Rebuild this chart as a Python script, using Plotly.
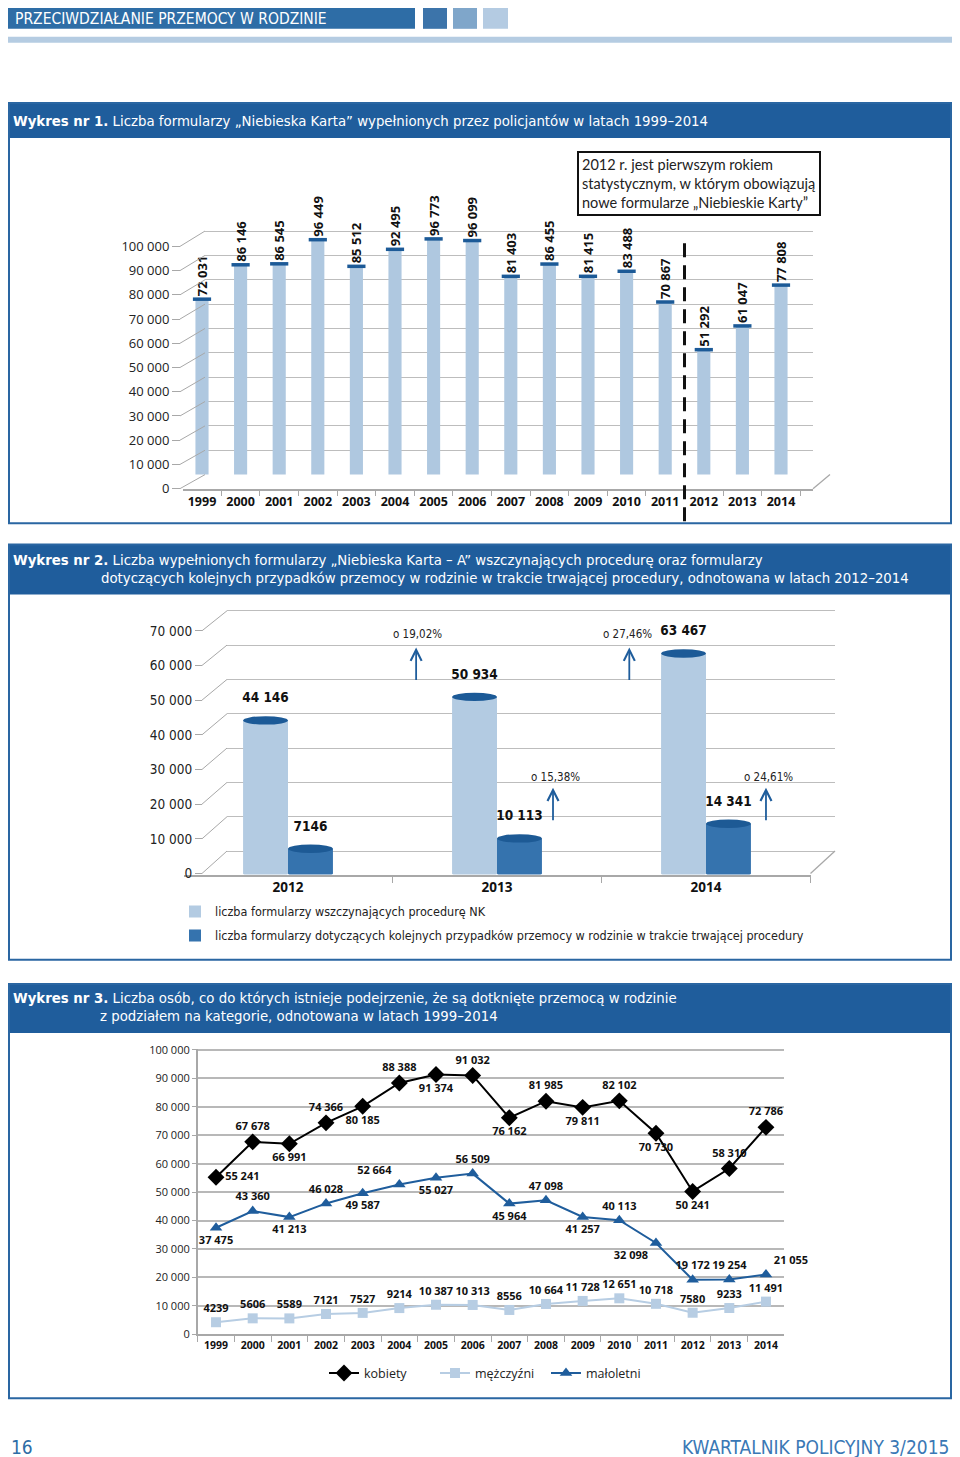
import plotly.graph_objects as go

# ---------------- data ----------------
years1 = ["1999", "2000", "2001", "2002", "2003", "2004", "2005", "2006",
          "2007", "2008", "2009", "2010", "2011", "2012", "2013", "2014"]
cards1 = [72031, 86146, 86545, 96449, 85512, 92495, 96773, 96099,
          81403, 86455, 81415, 83488, 70867, 51292, 61047, 77808]

years2 = ["2012", "2013", "2014"]
initiating2 = [44146, 50934, 63467]
subsequent2 = [7146, 10113, 14341]
pct_top2 = ["o 19,02%", "o 27,46%"]
pct_low2 = ["o 15,38%", "o 24,61%"]
legend2_names = ["liczba formularzy wszczynających procedurę NK",
                 "liczba formularzy dotyczących kolejnych przypadków przemocy w rodzinie w trakcie trwającej procedury"]

years3 = years1
women3 = [55241, 67678, 66991, 74366, 80185, 88388, 91374, 91032,
          76162, 81985, 79811, 82102, 70730, 50241, 58310, 72786]
men3 = [4239, 5606, 5589, 7121, 7527, 9214, 10387, 10313,
        8556, 10664, 11728, 12651, 10718, 7580, 9233, 11491]
minors3 = [37475, 43360, 41213, 46028, 49587, 52664, 55027, 56509,
           45964, 47098, 41257, 40113, 32098, 19172, 19254, 21055]
series3_names = ["kobiety", "mężczyźni", "małoletni"]

# label placement (style)
women_pos = ["middle right", "top center", "bottom center", "top center", "bottom center",
             "top center", "bottom center", "top center", "bottom center", "top center",
             "bottom center", "top center", "bottom center", "bottom center", "top center", "top center"]
minors_pos = ["bottom center", "top center", "bottom center", "top center", "bottom center",
              "top left", "bottom center", "top center", "bottom center", "top center",
              "bottom center", "top center", "bottom left", "top center", "top center", "top right"]
men_pos = ["top center"] * 16

# ---------------- helpers (page pixel -> paper fraction) ----------------
OX, FW = 8.0, 944
OYR, SY, FH = 14.2, 0.9886, 1458
def px(x): return (x - OX) / FW
def py(y): return 1 - ((y - OYR) / SY) / FH
def ydom(p0, s, r):
    return [py(p0 - r[0] * s), py(p0 - r[1] * s)]
def fmt(v):
    return f"{v:,}".replace(",", " ") if v >= 10000 else str(v)

NARROW = "DejaVu Sans Condensed, Liberation Sans Narrow, sans-serif"
SANS = "Open Sans, Noto Sans, sans-serif"
DARK = "#1f5d9c"
LIGHTBAR = "#afc8e0"
CAP = "#1c5a97"
GRID = "#bdbdbd"
AXC = "#a8a8a8"

fig = go.Figure()
shapes, annos = [], []

# ---------------- page decoration ----------------
shapes += [
    dict(type="rect", xref="paper", yref="paper", x0=px(0), x1=px(415), y0=py(28), y1=py(-10), fillcolor="#2e6da6", line_width=0, layer="below"),
    dict(type="rect", xref="paper", yref="paper", x0=px(423), x1=px(447), y0=py(28), y1=py(-10), fillcolor="#3c74aa", line_width=0, layer="below"),
    dict(type="rect", xref="paper", yref="paper", x0=px(453), x1=px(477), y0=py(28), y1=py(-10), fillcolor="#7fa6ca", line_width=0, layer="below"),
    dict(type="rect", xref="paper", yref="paper", x0=px(483), x1=px(508), y0=py(28), y1=py(-10), fillcolor="#b4cbe2", line_width=0, layer="below"),
    dict(type="rect", xref="paper", yref="paper", x0=px(0), x1=px(960), y0=py(42), y1=py(36), fillcolor="#b5cce2", line_width=0, layer="below"),
]
annos.append(dict(text="PRZECIWDZIAŁANIE PRZEMOCY W RODZINIE", xref="paper", yref="paper", x=px(13), y=py(18.5),
                  xanchor="left", yanchor="middle", showarrow=False, font=dict(family=NARROW, size=15.5, color="white")))

# section boxes and title bars
for top, bar_bottom, bottom in [(102, 137, 522), (543, 593, 958), (982, 1031, 1396)]:
    shapes.append(dict(type="rect", xref="paper", yref="paper", x0=px(0), x1=px(960), y0=py(bar_bottom), y1=py(top),
                       fillcolor=DARK, line_width=0, layer="below"))
    shapes.append(dict(type="rect", xref="paper", yref="paper", x0=px(9), x1=px(951), y0=py(bottom), y1=py(top),
                       fillcolor="rgba(0,0,0,0)", line=dict(color="#2a66a2", width=2), layer="above"))

def title(text, x, y):
    annos.append(dict(text=text, xref="paper", yref="paper", x=px(x), y=py(y), xanchor="left", yanchor="middle",
                      showarrow=False, font=dict(family=NARROW, size=14.8, color="white")))
title("<b>Wykres nr 1.</b> Liczba formularzy „Niebieska Karta” wypełnionych przez policjantów w latach 1999–2014", 11, 120)
title("<b>Wykres nr 2.</b> Liczba wypełnionych formularzy „Niebieska Karta – A” wszczynających procedurę oraz formularzy", 11, 558)
title("dotyczących kolejnych przypadków przemocy w rodzinie w trakcie trwającej procedury, odnotowana w latach 2012–2014", 99, 576)
title("<b>Wykres nr 3.</b> Liczba osób, co do których istnieje podejrzenie, że są dotknięte przemocą w rodzinie", 11, 996)
title("z podziałem na kategorie, odnotowana w latach 1999–2014", 98, 1014)

annos.append(dict(text="16", xref="paper", yref="paper", x=px(9), y=py(1445), xanchor="left", yanchor="middle",
                  showarrow=False, font=dict(family=NARROW, size=19, color="#2e6da6")))
annos.append(dict(text="KWARTALNIK POLICYJNY 3/2015", xref="paper", yref="paper", x=px(951), y=py(1445), xanchor="right",
                  yanchor="middle", showarrow=False, font=dict(family=NARROW, size=19, color="#3a78b5")))

# ---------------- chart 1 ----------------
P1B, S1B = 473.3, (473.3 - 230.0) / 100000      # back wall scale
P1F, S1F = 487.3, (487.3 - 245.3) / 100000      # front tick scale
R1 = [-300, 101500]
X1_FIRST, X1_STEP = 202.0, 38.6

fig.add_trace(go.Scatter(x=[None], y=[None], xaxis="x", yaxis="y", showlegend=False, hoverinfo="skip"))
fig.add_trace(go.Bar(x=years1, y=cards1, xaxis="x2", yaxis="y2", width=0.34, marker=dict(color=LIGHTBAR, line_width=0),
                     text=[fmt(v) for v in cards1], textposition="outside", textangle=-90, constraintext="none",
                     cliponaxis=False, textfont=dict(family=SANS, size=13, color="#111", weight="bold"),
                     showlegend=False, hoverinfo="skip"))
fig.add_trace(go.Scatter(x=years1, y=cards1, xaxis="x2", yaxis="y2", mode="markers", cliponaxis=False,
                         marker=dict(symbol="line-ew", size=13, line=dict(width=3.5, color=CAP)),
                         showlegend=False, hoverinfo="skip"))
fig.add_trace(go.Scatter(x=[None], y=[None], xaxis="x2", yaxis="y3", showlegend=False, hoverinfo="skip"))

for v in range(0, 100001, 10000):
    yf, yb = P1F - v * S1F, P1B - v * S1B
    shapes.append(dict(type="path", xref="paper", yref="paper",
                       path=f"M {px(180)} {py(yf)} L {px(205)} {py(yb)}", line=dict(color=AXC, width=1)))
shapes.append(dict(type="line", xref="paper", yref="paper", x0=px(813), y0=py(P1F), x1=px(830), y1=py(P1B),
                   line=dict(color=AXC, width=1.3)))
shapes.append(dict(type="line", xref="x2", yref="paper", x0=12.5, x1=12.5, y0=py(520), y1=py(236),
                   line=dict(color="#111", width=3, dash="14px,8px")))
annos.append(dict(text="2012 r. jest pierwszym rokiem<br>statystycznym, w którym obowiązują<br>nowe formularze „Niebieskie Karty”",
                  xref="paper", yref="paper", x=px(577), y=py(150), xanchor="left", yanchor="top", align="left",
                  showarrow=False, bordercolor="#111", borderwidth=2, borderpad=3, bgcolor="white",
                  font=dict(family="Lato, Open Sans, sans-serif", size=14.5, color="#222")))

# ---------------- chart 2 ----------------
P2B, S2B = 849.3, (849.3 - 609.3) / 70000
P2F, S2F = 871.7, (871.7 - 629.3) / 70000
R2 = [-300, 70600]
BW = 0.215
MID = "#3573ae"

fig.add_trace(go.Scatter(x=[None], y=[None], xaxis="x3", yaxis="y4", showlegend=False, hoverinfo="skip"))
xs2 = list(range(len(years2)))
fig.add_trace(go.Bar(x=xs2, y=initiating2, xaxis="x4", yaxis="y5", width=BW, offset=-BW,
                     marker=dict(color="#b3cbe2", line_width=0), name=legend2_names[0], legend="legend2",
                     hoverinfo="skip"))
fig.add_trace(go.Bar(x=xs2, y=subsequent2, xaxis="x4", yaxis="y5", width=BW, offset=0,
                     marker=dict(color=MID, line_width=0), name=legend2_names[1], legend="legend3",
                     hoverinfo="skip"))
fig.add_trace(go.Scatter(x=[i - BW / 2 for i in xs2], y=initiating2, xaxis="x4", yaxis="y5", mode="markers+text",
                         marker=dict(size=22, opacity=0), text=[fmt(v) for v in initiating2], textposition="top center",
                         textfont=dict(family=NARROW, size=13.5, color="#111", weight="bold"), cliponaxis=False,
                         showlegend=False, hoverinfo="skip"))
fig.add_trace(go.Scatter(x=[i + BW / 2 for i in xs2], y=subsequent2, xaxis="x4", yaxis="y5", mode="markers+text",
                         marker=dict(size=22, opacity=0), text=[fmt(v) for v in subsequent2], textposition="top center",
                         textfont=dict(family=NARROW, size=13.5, color="#111", weight="bold"), cliponaxis=False,
                         showlegend=False, hoverinfo="skip"))

hh = 4.2 / S2F
for i in xs2:
    for x0, v, capc, bodyc in [(i - BW, initiating2[i], CAP, "#b3cbe2"), (i, subsequent2[i], "#1d5a95", MID)]:
        shapes.append(dict(type="circle", xref="x4", yref="y5", x0=x0, x1=x0 + BW, y0=v - hh, y1=v + hh,
                           fillcolor=capc, line_width=0, layer="above"))
        shapes.append(dict(type="circle", xref="x4", yref="y5", x0=x0, x1=x0 + BW, y0=-hh, y1=hh,
                           fillcolor=bodyc, line_width=0, layer="below"))

for v in range(0, 70001, 10000):
    yf, yb = P2F - v * S2F, P2B - v * S2B
    shapes.append(dict(type="path", xref="paper", yref="paper",
                       path=f"M {px(202)} {py(yf)} L {px(227)} {py(yb)}", line=dict(color=AXC, width=1)))
shapes.append(dict(type="line", xref="paper", yref="paper", x0=px(810.5), y0=py(P2F), x1=px(835), y1=py(P2B),
                   line=dict(color=AXC, width=1.3)))

ARROWC = "#1f5d9c"
for xa, xt, ytip, ytxt, label in [(0.613, 0.619, 65180, 69020, pct_top2[0]), (1.633, 1.625, 65180, 69020, pct_top2[1]),
                                  (1.268, 1.278, 24750, 27720, pct_low2[0]), (2.287, 2.297, 24750, 27720, pct_low2[1])]:
    annos.append(dict(text="", xref="x4", yref="y5", x=xa, y=ytip, ax=0, ay=34, showarrow=True, arrowhead=5,
                      arrowsize=1.2, arrowwidth=1.8, arrowcolor=ARROWC))
    annos.append(dict(text=label, xref="x4", yref="y5", x=xt, y=ytxt, showarrow=False, xanchor="center", yanchor="middle",
                      font=dict(family=NARROW, size=11.5, color="#222")))

# ---------------- chart 3 ----------------
P3, S3 = 1332.0, 284.0 / 100000
R3 = [0, 100500]
LAB = dict(family=SANS, size=11, color="#111", weight="bold")
fig.add_trace(go.Scatter(x=years3, y=women3, xaxis="x5", yaxis="y6", name=series3_names[0], legend="legend4",
                         mode="lines+markers+text", line=dict(color="#000", width=2),
                         marker=dict(symbol="diamond", size=13, color="#000"),
                         text=[fmt(v) for v in women3], textposition=women_pos, textfont=LAB, cliponaxis=False,
                         hoverinfo="skip"))
fig.add_trace(go.Scatter(x=years3, y=men3, xaxis="x5", yaxis="y6", name=series3_names[1], legend="legend4",
                         mode="lines+markers+text", line=dict(color="#b7cde3", width=2),
                         marker=dict(symbol="square", size=10, color="#b7cde3"),
                         text=[fmt(v) for v in men3], textposition=men_pos, textfont=LAB, cliponaxis=False,
                         hoverinfo="skip"))
fig.add_trace(go.Scatter(x=years3, y=minors3, xaxis="x5", yaxis="y6", name=series3_names[2], legend="legend4",
                         mode="lines+markers+text", line=dict(color="#1f5d9c", width=2),
                         marker=dict(symbol="triangle-up", size=11, color="#1f5d9c"),
                         text=[fmt(v) for v in minors3], textposition=minors_pos, textfont=LAB, cliponaxis=False,
                         hoverinfo="skip"))

# ---------------- layout ----------------
fig.update_layout(
    width=FW, height=FH, margin=dict(l=0, r=0, t=0, b=0, pad=0),
    paper_bgcolor="white", plot_bgcolor="rgba(0,0,0,0)", separators=", ", barmode="overlay",
    shapes=shapes, annotations=annos,
    # chart 1
    xaxis=dict(domain=[px(205), px(813)], range=[0, 1], visible=False, anchor="y"),
    yaxis=dict(domain=ydom(P1B, S1B, R1), range=R1, anchor="x", showgrid=True, gridcolor=GRID, gridwidth=1.3,
               dtick=10000, tick0=0, showticklabels=False, ticks="", zeroline=False, showline=False),
    xaxis2=dict(domain=[px(183), px(813)], type="category", categoryorder="array", categoryarray=years1,
                range=[(183 - X1_FIRST) / X1_STEP, (813 - X1_FIRST) / X1_STEP], anchor="y3", tickangle=0,
                showline=True, linecolor=AXC, linewidth=1.5, ticks="outside", tickson="boundaries", ticklen=5,
                tickcolor=AXC, showgrid=False, tickfont=dict(family=SANS, size=12.5, color="#111", weight="bold")),
    yaxis2=dict(domain=ydom(P1B, S1B, R1), range=R1, anchor="x2", visible=False, showgrid=False),
    yaxis3=dict(domain=ydom(P1F, S1F, R1), range=R1, anchor="free", position=px(180), showgrid=False,
                zeroline=False, ticks="outside", ticklen=8, tickcolor=AXC, dtick=10000, tick0=0, tickformat=",",
                showline=False, tickfont=dict(family=SANS, size=13, color="#222")),
    # chart 2
    xaxis3=dict(domain=[px(227), px(835)], range=[0, 1], visible=False, anchor="y4"),
    yaxis4=dict(domain=ydom(P2B, S2B, R2), range=R2, anchor="x3", showgrid=True, gridcolor=GRID, gridwidth=1.3,
                dtick=10000, tick0=0, showticklabels=False, ticks="", zeroline=False, showline=False),
    xaxis4=dict(domain=[px(183.5), px(810.5)], range=[-0.5, 2.5], anchor="y5", tickmode="array", tickvals=xs2,
                ticktext=years2, ticks="", showgrid=False, zeroline=False, showline=True, linecolor=AXC, linewidth=1.5,
                minor=dict(tickmode="array", tickvals=[0.5, 1.5, 2.5], ticks="outside", ticklen=7, tickcolor=AXC),
                tickfont=dict(family=SANS, size=13.5, color="#111", weight="bold")),
    yaxis5=dict(domain=ydom(P2F, S2F, R2), range=R2, anchor="free", position=px(202), showgrid=False,
                zeroline=False, ticks="outside", ticklen=7, tickcolor=AXC, dtick=10000, tick0=0, tickformat=",",
                showline=False, tickfont=dict(family=NARROW, size=13.5, color="#222")),
    # chart 3
    xaxis5=dict(domain=[px(197.7), px(784.3)], type="category", range=[-0.5, 15.5], anchor="y6", showline=True,
                linecolor=AXC, tickangle=0,
                linewidth=1.5, ticks="outside", tickson="boundaries", ticklen=6, tickcolor=AXC, showgrid=False,
                tickfont=dict(family=SANS, size=10.5, color="#111", weight="bold")),
    yaxis6=dict(domain=ydom(P3, S3, R3), range=R3, anchor="x5", showgrid=True, gridcolor="#b8b8b8", gridwidth=1.5,
                dtick=10000, tick0=0, tickformat=",", zeroline=False, showline=True, linecolor=AXC, linewidth=1.5,
                ticks="outside", ticklen=4, tickcolor=AXC, tickfont=dict(family=SANS, size=11, color="#222")),
    legend2=dict(x=px(175), y=py(910), xanchor="left", yanchor="middle", bgcolor="rgba(0,0,0,0)",
                 font=dict(family=NARROW, size=12.5, color="#222")),
    legend3=dict(x=px(175), y=py(934), xanchor="left", yanchor="middle", bgcolor="rgba(0,0,0,0)",
                 font=dict(family=NARROW, size=12.5, color="#222")),
    legend4=dict(x=px(324), y=py(1371), xanchor="left", yanchor="middle", orientation="h", bgcolor="rgba(0,0,0,0)",
                 entrywidth=66, entrywidthmode="pixels", font=dict(family=SANS, size=12.5, color="#222")),
)

fig.write_html("out.html")
